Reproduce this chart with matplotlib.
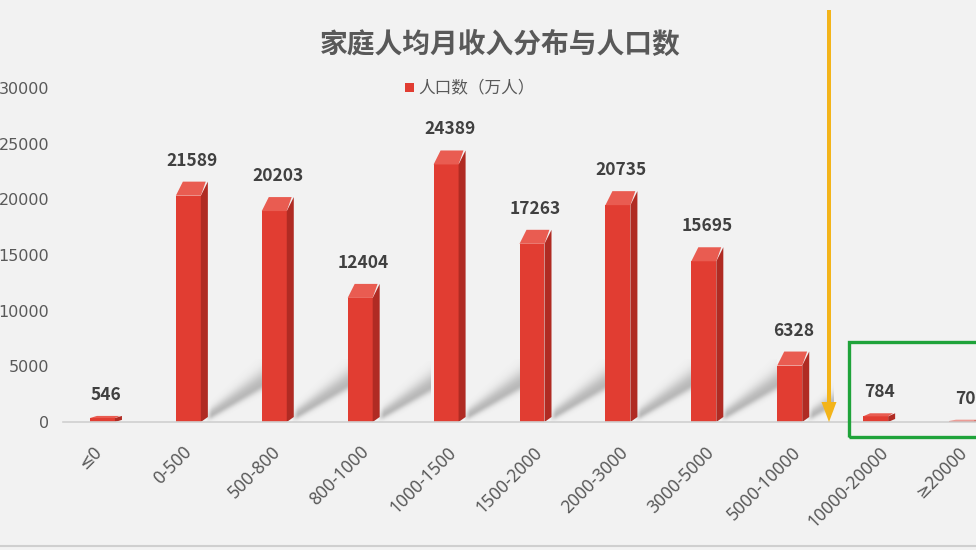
import matplotlib
matplotlib.use("Agg")
import matplotlib.pyplot as plt
from matplotlib.patches import Polygon, Rectangle, FancyArrow
from matplotlib.transforms import offset_copy
import numpy as np

plt.rcParams['font.family'] = ['Noto Sans CJK SC', 'DejaVu Sans']

# ---- data ----
title = "家庭人均月收入分布与人口数"
series_name = "人口数（万人）"
categories = ["≤0", "0-500", "500-800", "800-1000", "1000-1500", "1500-2000",
              "2000-3000", "3000-5000", "5000-10000", "10000-20000", "≥20000"]
population = [546, 21589, 20203, 12404, 24389, 17263, 20735, 15695, 6328, 784, 70]
yticks = [0, 5000, 10000, 15000, 20000, 25000, 30000]

# ---- style ----
BG = "#f2f2f2"
FRONT = "#e13d32"
SIDE = "#b02b23"
TOP = "#e95c51"
TXT = "#595959"
W, H = 976, 550
DPI = 100

fig = plt.figure(figsize=(W / DPI, H / DPI), dpi=DPI, facecolor=BG)

ax_left, ax_right = 63, 1008
ax_bottom_px, ax_top_px = 422, 88
ax = fig.add_axes([ax_left / W, (H - ax_bottom_px) / H,
                   (ax_right - ax_left) / W, (ax_bottom_px - ax_top_px) / H])
ax.set_facecolor(BG)
n = len(categories)

px_x = n / (ax_right - ax_left)
px_y = 30000 / (ax_bottom_px - ax_top_px)

x = np.arange(n)
front_l, front_r, depth_x = 16, 9, 7

# soft floor shadows cast up-right from each bar's base (blurred image)
for i, v in enumerate(population):
    L = min(56, 0.0042 * v)
    if L < 8:
        continue
    Hs = int(L * 0.6 + 30)
    nx, ny = int(L) * 2, Hs * 2
    u = (np.arange(nx) + 0.5) / 2.0
    w = (np.arange(ny) + 0.5) / 2.0
    U, V = np.meshgrid(u, w)
    centre = 4 + 0.6 * U
    d = V - centre
    sig = np.where(d < 0, 4.0 + 0.03 * U, 6.0 + 0.15 * U)
    a = 0.42 * np.exp(-(d / sig) ** 2) * np.clip(U / 6.0, 0, 1)
    img = np.zeros((ny, nx, 4))
    img[..., :3] = 0.42
    img[..., 3] = a
    x0 = x[i] + (front_r + depth_x - 2) * px_x
    ax.imshow(img, extent=(x0, x0 + L * px_x, 0, Hs * px_y), origin='lower',
              aspect='auto', interpolation='bilinear', zorder=1)

# 3D-like bars
for i, v in enumerate(population):
    vpx = max(v / px_y, 2.2)
    vv = vpx * px_y
    dy_px = min(14, 0.35 * vpx)
    dy = dy_px * px_y
    fl = x[i] - front_l * px_x
    fr = x[i] + front_r * px_x
    dx = depth_x * px_x
    front_h = vv - dy
    ax.bar(fl, front_h, width=fr - fl, align='edge', color=FRONT, edgecolor='none', zorder=3)
    side = Polygon([(fr, 0), (fr + dx, min(dy, 5 * px_y)), (fr + dx, vv), (fr, front_h)],
                   closed=True, facecolor=SIDE, edgecolor='none', zorder=3)
    ax.add_patch(side)
    top = Polygon([(fl, front_h), (fr, front_h), (fr + dx * 0.7, vv), (fl + dx, vv)],
                  closed=True, facecolor=TOP, edgecolor='none', zorder=3)
    ax.add_patch(top)
    lab_tr = offset_copy(ax.transData, fig=fig, x=0, y=21, units='dots')
    ax.text(x[i], vv, f"{v}", transform=lab_tr, ha='center', va='center',
            fontsize=12.5, fontweight='bold', color="#404040", zorder=5, clip_on=False)

ax.set_xlim(-0.5, n - 0.5)
ax.set_ylim(0, 30000)

# axes styling
for s in ['left', 'right', 'top']:
    ax.spines[s].set_visible(False)
ax.spines['bottom'].set_color("#d0d0d0")
ax.spines['bottom'].set_linewidth(1.2)
ax.spines['bottom'].set_zorder(4)
ax.set_yticks(yticks)
ax.set_yticklabels([str(t) for t in yticks], family=['DejaVu Sans'])
ax.tick_params(axis='y', length=0, pad=10, labelsize=11.5, labelcolor=TXT)
ax.set_xticks([])
for i, c in enumerate(categories):
    tr = offset_copy(ax.transData, fig=fig, x=-17 + 1.6 * len(c), y=-21, units='dots')
    ax.text(x[i], 0, c, transform=tr, rotation=45, rotation_mode='anchor',
            ha='right', va='top', fontsize=12.5, color=TXT, clip_on=False,
            family=['Noto Sans', 'DejaVu Sans'])

# title & legend
fig.text(500 / W, 1 - 45 / H, title, ha='center', va='center', fontsize=20,
         fontweight='bold', color=TXT)
fig.add_artist(Rectangle((405 / W, 1 - 92 / H), 9 / W, 9 / H, transform=fig.transFigure,
                         facecolor=FRONT, edgecolor='none'))
fig.text(418 / W, 1 - 88 / H, series_name, ha='left', va='center', fontsize=12, color=TXT)

# annotations: arrow and green box
tin = fig.dpi_scale_trans
def yin(p):
    return (H - p) / DPI
fig.add_artist(FancyArrow(829 / DPI, yin(10), 0, -(400 - 10) / DPI - 0.02,
                          width=4 / DPI, head_width=15 / DPI, head_length=20 / DPI,
                          transform=tin, facecolor="#f3b41a", edgecolor='none'))
fig.add_artist(Rectangle((849 / DPI, yin(437)), (990 - 849) / DPI, (437 - 342) / DPI,
                         transform=tin, facecolor='none', edgecolor="#1fa33a", linewidth=2.4))
fig.add_artist(plt.Line2D([0, 1], [1 - 546 / H, 1 - 546 / H], transform=fig.transFigure,
                          color="#cfcfcf", linewidth=1.5))

fig.savefig("out.png", dpi=DPI, facecolor=BG)
